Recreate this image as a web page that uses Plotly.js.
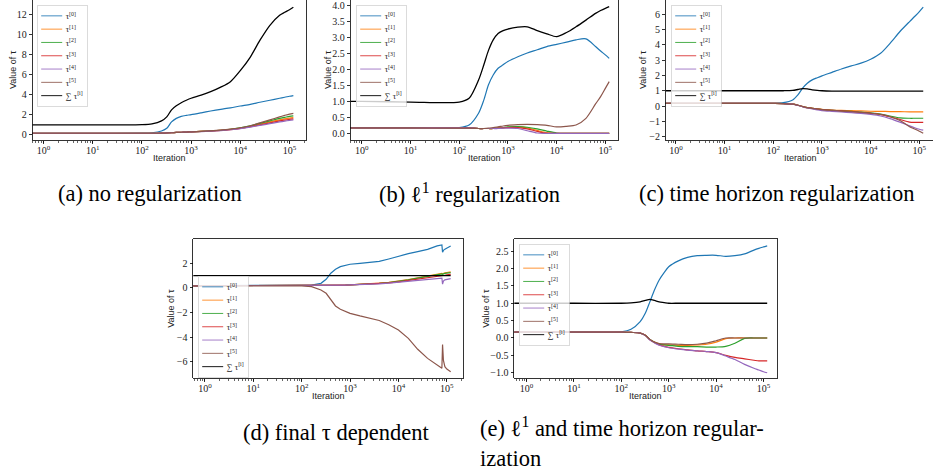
<!DOCTYPE html>
<html><head><meta charset="utf-8">
<script src="https://cdn.plot.ly/plotly-3.0.1.min.js"></script>
<style>html,body{margin:0;padding:0;background:#fff;} #chart{width:933px;height:472px;}</style>
</head><body><div id="chart"></div>
<script>
// Iteration grids (x values)
const iterations = [0.5,1,10,100,160,250,320,400,500,630,800,1000,1600,2500,4000,6300,10000,16000,25000,40000,63000,80000,100000,120000];
const iterationsD = [0.5,1,10,100,160,250,320,400,500,630,800,1000,1600,2500,4000,6300,10000,16000,25000,40000,63000,79000,81500,85000,91000,100000,120000];

// x tick labels
const xTickVals = [1,10,100,1000,10000,100000];
const xTickText = ['10<sup>0</sup>','10<sup>1</sup>','10<sup>2</sup>','10<sup>3</sup>','10<sup>4</sup>','10<sup>5</sup>'];

// series names
const seriesNames = ['τ<sup>[0]</sup>','τ<sup>[1]</sup>','τ<sup>[2]</sup>','τ<sup>[3]</sup>','τ<sup>[4]</sup>','τ<sup>[5]</sup>','∑ τ<sup>[i]</sup>'];

// axis titles and captions
const xTitle = 'Iteration';
const yTitle = 'Value of τ';
const captions = ['(a) no regularization','(b) ℓ<sup>1</sup> regularization','(c) time horizon regularization','(d) final τ dependent','(e) ℓ<sup>1</sup> and time horizon regular-<br>ization'];

// (a) no regularization
const a_tau0 = [.17,.17,.17,.18,.22,.4,.66,1.3,1.65,1.85,1.95,2.02,2.2,2.38,2.55,2.7,2.88,3.05,3.25,3.45,3.65,3.75,3.85,3.92];
const a_tau1 = [.17,.17,.17,.17,.17,.18,.2,.22,.25,.27,.29,.31,.35,.4,.46,.55,.68,.86,1.08,1.3,1.5,1.6,1.68,1.72];
const a_tau2 = [.17,.17,.17,.17,.17,.18,.2,.22,.25,.27,.29,.31,.35,.4,.47,.57,.7,.9,1.15,1.4,1.65,1.75,1.85,1.9];
const a_tau3 = [.17,.17,.17,.17,.17,.18,.2,.22,.25,.27,.29,.31,.35,.39,.45,.54,.66,.82,1.0,1.2,1.4,1.48,1.55,1.6];
const a_tau4 = [.17,.17,.17,.17,.17,.18,.2,.22,.25,.27,.29,.3,.34,.38,.44,.52,.62,.78,.95,1.12,1.3,1.38,1.45,1.5];
const a_tau5 = [.17,.17,.17,.17,.17,.18,.2,.22,.25,.27,.29,.31,.36,.41,.48,.58,.72,.92,1.2,1.5,1.8,1.95,2.08,2.15];
const a_sum  = [1,1,1,1.02,1.1,1.4,1.8,2.5,2.9,3.2,3.45,3.65,3.95,4.3,4.75,5.3,6.4,7.75,9.4,10.9,11.9,12.2,12.45,12.7];

// (b) l1 regularization
const b_tau0 = [.17,.17,.17,.18,.26,.63,1.04,1.52,1.83,2.04,2.15,2.25,2.4,2.52,2.62,2.72,2.79,2.86,2.93,2.96,2.72,2.58,2.46,2.35];
const b_tau1 = [.17,.17,.17,.17,.17,.15,.15,.15,.15,.16,.17,.19,.2,.17,.09,.02,0,0,0,0,0,0,0,0];
const b_tau2 = [.17,.17,.17,.17,.17,.15,.15,.15,.15,.16,.18,.2,.21,.19,.14,.07,.01,0,0,0,0,0,0,0];
const b_tau3 = [.17,.17,.17,.17,.17,.15,.15,.15,.15,.16,.17,.18,.18,.14,.06,0,0,0,0,0,0,0,0,0];
const b_tau4 = [.17,.17,.17,.17,.17,.15,.15,.15,.15,.15,.16,.16,.15,.08,.01,0,0,0,0,0,0,0,0,0];
const b_tau5 = [.17,.17,.17,.16,.16,.15,.15,.16,.18,.2,.23,.25,.27,.28,.27,.25,.2,.22,.26,.47,.92,1.15,1.41,1.62];
const b_sum  = [1,1,.98,.98,1.1,1.67,2.14,2.6,2.93,3.13,3.22,3.27,3.33,3.34,3.22,3.12,3.03,3.16,3.34,3.55,3.76,3.85,3.92,3.97];

// (c) time horizon regularization
const c_tau0 = [.17,.17,.17,.18,.22,.4,.73,1.17,1.49,1.71,1.85,1.97,2.2,2.42,2.62,2.8,3.06,3.45,4.1,4.87,5.52,5.85,6.17,6.46];
const c_tau1 = [.17,.17,.17,.17,.16,.12,.05,-.03,-.1,-.15,-.19,-.22,-.26,-.29,-.3,-.32,-.34,-.35,-.36,-.37,-.38,-.38,-.38,-.38];
const c_tau2 = [.17,.17,.17,.17,.16,.12,.05,-.03,-.1,-.15,-.2,-.24,-.28,-.32,-.35,-.4,-.45,-.52,-.65,-.78,-.8,-.8,-.8,-.8];
const c_tau3 = [.17,.17,.17,.17,.16,.12,.05,-.03,-.1,-.15,-.2,-.24,-.28,-.32,-.36,-.42,-.48,-.56,-.7,-.88,-1.05,-1.07,-1.07,-1.07];
const c_tau4 = [.17,.17,.17,.17,.16,.12,.04,-.05,-.13,-.19,-.25,-.3,-.35,-.39,-.43,-.48,-.55,-.65,-.82,-1.05,-1.3,-1.42,-1.52,-1.58];
const c_tau5 = [.17,.17,.17,.17,.16,.12,.05,-.03,-.1,-.15,-.2,-.24,-.28,-.33,-.37,-.41,-.46,-.55,-.7,-.95,-1.35,-1.5,-1.65,-1.78];
const c_sum  = [1,1,1,1,1,1.02,1.08,1.14,1.12,1.06,1.02,1,.98,.97,.97,.97,.97,.97,.97,.97,.97,.97,.97,.97];

// (d) final tau dependent
const d_tau0 = [.17,.17,.17,.18,.22,.37,.7,1.19,1.51,1.73,1.85,1.92,2.0,2.07,2.15,2.35,2.59,2.78,2.95,3.13,3.41,3.49,2.9,3.05,3.15,3.25,3.41];
const d_tau1 = [.17,.17,.17,.17,.17,.18,.19,.2,.21,.22,.23,.25,.28,.32,.38,.45,.55,.68,.82,.98,1.12,1.18,1.15,1.2,1.22,1.25,1.3];
const d_tau2 = [.17,.17,.17,.17,.17,.18,.19,.2,.21,.22,.23,.25,.28,.32,.37,.44,.53,.65,.79,.95,1.08,1.13,1.1,1.15,1.18,1.2,1.24];
const d_tau3 = [.17,.17,.17,.17,.17,.18,.19,.2,.21,.22,.23,.24,.27,.3,.35,.41,.49,.6,.72,.84,.94,.98,.95,1.0,1.03,1.06,1.1];
const d_tau4 = [.17,.17,.17,.17,.17,.18,.19,.2,.21,.22,.23,.24,.26,.29,.33,.38,.45,.52,.6,.67,.74,.8,.3,.55,.65,.7,.75];
const d_tau5 = [.17,.17,.17,.16,.1,-.17,-.44,-.98,-1.47,-1.74,-1.92,-2.07,-2.28,-2.45,-2.65,-3.0,-3.42,-4.1,-4.99,-5.73,-6.27,-6.54,-4.6,-5.9,-6.4,-6.6,-6.81];
const d_sum  = [1,1,1,1,1,1,1,1,1,1,1,1,1,1,1,1,1,1,1,1,1,1,1,1,1,1,1];

// (e) l1 and time horizon regularization
const e_tau0 = [.17,.17,.17,.18,.25,.47,.71,1.04,1.38,1.67,1.88,2.05,2.22,2.32,2.37,2.38,2.38,2.35,2.37,2.42,2.53,2.58,2.62,2.65];
const e_tau1 = [.17,.17,.17,.17,.16,.14,.08,-.04,-.12,-.17,-.19,-.2,-.21,-.21,-.2,-.18,-.12,-.02,0,0,0,0,0,0];
const e_tau2 = [.17,.17,.17,.17,.16,.14,.08,-.04,-.12,-.18,-.2,-.21,-.24,-.25,-.25,-.26,-.26,-.24,-.15,-.01,0,0,0,0];
const e_tau3 = [.17,.17,.17,.17,.16,.14,.08,-.05,-.13,-.2,-.24,-.27,-.31,-.34,-.37,-.39,-.42,-.5,-.56,-.6,-.64,-.66,-.66,-.66];
const e_tau4 = [.17,.17,.17,.17,.16,.14,.07,-.06,-.14,-.21,-.25,-.28,-.32,-.35,-.37,-.39,-.42,-.52,-.62,-.76,-.87,-.92,-.97,-1.0];
const e_tau5 = [.17,.17,.17,.17,.16,.14,.08,-.04,-.12,-.16,-.17,-.17,-.18,-.19,-.18,-.15,-.08,0,0,0,0,0,0,0];
const e_sum  = [1,1,1,1,1.01,1.04,1.08,1.11,1.08,1.04,1.02,1,1,1,1,1,1,1,1,1,1,1,1,1];

const colors = ['#1f77b4','#ff7f0e','#2ca02c','#d62728','#9467bd','#8c564b','#000000'];

const W = 933, H = 472;
const panels = [
  {x: iterations,  ys: [a_tau0,a_tau1,a_tau2,a_tau3,a_tau4,a_tau5,a_sum], box:[32.5,305.7,0,140],  xr:[-0.225,5.33], yr:[-0.5,13.42], dtick:2, fmt:'', leg:[37,5], shape:'spline', ytx:13, xty:158},
  {x: iterations,  ys: [b_tau0,b_tau1,b_tau2,b_tau3,b_tau4,b_tau5,b_sum], box:[350.5,618,0,140],   xr:[-0.23,5.26], yr:[-0.21,4.18], dtick:0.5, fmt:'.1f', leg:[356,5], shape:'spline', ytx:328, xty:158},
  {x: iterations,  ys: [c_tau0,c_tau1,c_tau2,c_tau3,c_tau4,c_tau5,c_sum], box:[665.7,933,0,140],   xr:[-0.21,5.28], yr:[-2.22,6.93], dtick:1, fmt:'', leg:[671,5], shape:'spline', ytx:643, xty:158, xtc:800},
  {x: iterationsD, ys: [d_tau0,d_tau1,d_tau2,d_tau3,d_tau4,d_tau5,d_sum], box:[193.3,463.3,239.3,378.3], xr:[-0.24,5.34], yr:[-7.35,3.95], dtick:2, fmt:'', leg:[198,276], shape:'linear', ytx:171, xty:396},
  {x: iterations,  ys: [e_tau0,e_tau1,e_tau2,e_tau3,e_tau4,e_tau5,e_sum], box:[514.3,776.7,239.3,378.3], xr:[-0.26,5.28], yr:[-1.16,2.84], dtick:0.5, fmt:'.1f', leg:[519,244], shape:'spline', ytx:486, xty:396}
];

const SERIF = 'Liberation Serif';
const tickFont = {family:SERIF, size:10, color:'#222'};
const titleFont = {family:'Liberation Sans', size:9, color:'#222'};

const data = [];
const layout = {
  width: W, height: H, margin:{l:0,r:0,t:0,b:0},
  paper_bgcolor:'#fff', plot_bgcolor:'#fff', showlegend:true,
  annotations: [], hovermode:false
};

panels.forEach((p, i) => {
  const n = i === 0 ? '' : String(i+1);
  const legKey = 'legend' + n;
  p.ys.forEach((y, k) => {
    data.push({
      type:'scatter', mode:'lines', x:p.x, y:y, name:seriesNames[k],
      line:{color:colors[k], width: k===6 ? 1.3 : 1.2, shape:p.shape, smoothing:0.8},
      xaxis:'x'+n, yaxis:'y'+n, legend:legKey, hoverinfo:'skip'
    });
  });
  const [x0,x1,y0,y1] = p.box;
  layout['xaxis'+n] = {
    type:'log', domain:[x0/W, Math.min(1, x1/W)], range:p.xr, anchor:'y'+n,
    tickmode:'array', tickvals:xTickVals, ticktext:xTickText,
    ticks:'outside', ticklen:3, tickwidth:0.8, tickcolor:'#000', ticklabelstandoff:-2,
    showline:true, linecolor:'#000', linewidth:0.8, mirror:true,
    showgrid:false, zeroline:false, automargin:false, tickfont:tickFont,
    minor:{ticks:'outside', ticklen:1.8, tickwidth:0.6, tickcolor:'#000', dtick:'D1', showgrid:false}
  };
  layout['yaxis'+n] = {
    domain:[1 - y1/H, 1 - y0/H], range:p.yr, anchor:'x'+n,
    dtick:p.dtick, tick0:0, tickformat:p.fmt,
    ticks:'outside', ticklen:3, tickwidth:0.8, tickcolor:'#000',
    showline:true, linecolor:'#000', linewidth:0.8, mirror:true,
    showgrid:false, zeroline:false, automargin:false, tickfont:tickFont
  };
  layout[legKey] = {
    x:p.leg[0]/W, y:1 - p.leg[1]/H, xanchor:'left', yanchor:'top', xref:'paper', yref:'paper',
    bgcolor:'rgba(255,255,255,0.8)', bordercolor:'#cccccc', borderwidth:1,
    font:{family:SERIF, size:12, color:'#222'}, tracegroupgap:0
  };
  // axis titles
  const xc = p.xtc !== undefined ? p.xtc : (x0 + x1) / 2;
  layout.annotations.push({text:xTitle, xref:'paper', yref:'paper', x:xc/W, y:1 - p.xty/H,
    xanchor:'center', yanchor:'middle', showarrow:false, font:titleFont});
  layout.annotations.push({text:yTitle, xref:'paper', yref:'paper', x:p.ytx/W, y:1 - ((y0 + y1) / 2)/H,
    xanchor:'center', yanchor:'middle', textangle:-90, showarrow:false, font:titleFont});
});

const capPos = [[56,193],[377,193],[637,193],[241,432],[478,442]];
captions.forEach((t, i) => {
  layout.annotations.push({
    text:t, xref:'paper', yref:'paper', x:capPos[i][0]/W, y:1 - capPos[i][1]/H,
    xanchor:'left', yanchor:'middle', align:'left', showarrow:false,
    font:{family:SERIF, size:22.5, color:'#000'}
  });
});

Plotly.newPlot('chart', data, layout, {staticPlot:true, displayModeBar:false}).then(gd => {
  gd.querySelectorAll('.infolayer > g').forEach(g => {
    const cls = g.getAttribute('class') || '';
    if (/^legend\d*$/.test(cls)) {
      const t = g.getAttribute('transform') || '';
      g.setAttribute('transform', t + ' scale(0.7)');
    }
  });
});
</script>
</body></html>
